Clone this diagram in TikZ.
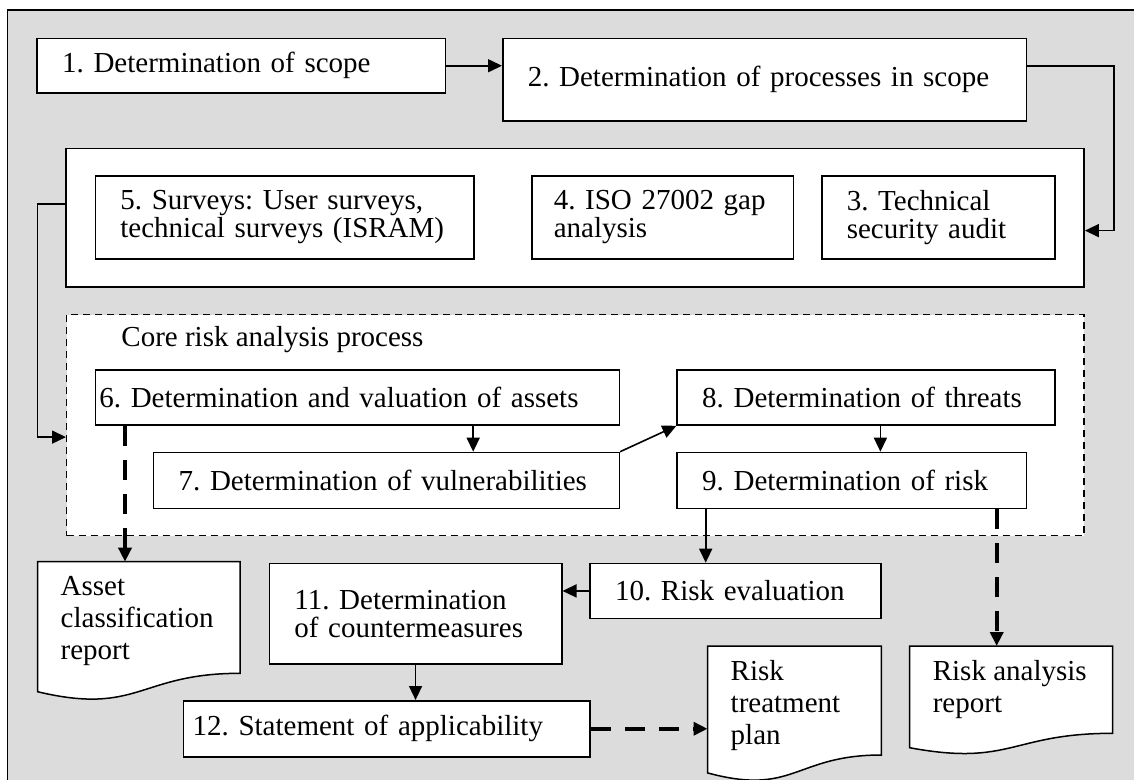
\documentclass[tikz,border=0pt]{standalone}
\usepackage{fontspec}
\setmainfont{Liberation Serif}
\usetikzlibrary{arrows.meta}
\frenchspacing

\definecolor{framegray}{RGB}{220,220,220}

\tikzset{
  stepbox/.style={draw, fill=white, line width=1.5pt, anchor=north west,
    align=left, inner xsep=25pt, inner ysep=0pt},
  doctext/.style={anchor=north west, align=left, inner xsep=23pt,
    inner ysep=14pt, font=\fontsize{29}{32}\selectfont},
  docshape/.style={draw, fill=white, line width=1.5pt},
  flow/.style={->, line width=1.6pt},
  dashflow/.style={->, line width=4pt, dash pattern=on 20pt off 14pt},
}

\begin{document}
\begin{tikzpicture}[x=1pt, y=-1pt, >={Triangle[length=14pt, width=13pt]},
    every node/.style={font=\fontsize{29}{28}\selectfont}]

        \useasboundingbox (0,0) rectangle (1134,779);

        % Outer frame
        \draw[line width=1.5pt, fill=framegray] (7.5,10) rectangle (1150,800);

        % Audits
        \node[stepbox, minimum width=1018pt, minimum height=138.3pt] (audit) at (65.4,147.7) {};
        \node[stepbox, text width=328.6pt, minimum height=83.3pt] (b5) at (94.6,175) {5. Surveys: User surveys,\\technical surveys (ISRAM)};
        \node[stepbox, inner xsep=22pt, text width=217.8pt, minimum height=83.3pt] (b4) at (531,175) {4. ISO 27002 gap\\analysis};
        \node[stepbox, text width=183pt, minimum height=83.3pt] (b3) at (821,175) {3. Technical\\security audit};

        % Core risk analysis process
        \node[stepbox, line width=1.2pt, dash pattern=on 7pt off 5pt, minimum width=1017.4pt, minimum height=221pt] (core) at (66,314) {};
        \node[anchor=base west] (coretitle) at (117.9,346.7) {Core risk analysis process};

        \node[stepbox, inner xsep=4pt, text width=516pt, minimum height=55.3pt] (b6) at (94.6,369) {6. Determination and valuation of assets};
        \node[stepbox, text width=415.7pt, minimum height=56pt] (b7) at (152.9,451.7) {7. Determination of vulnerabilities};
        \node[stepbox, text width=327.7pt, minimum height=55.3pt] (b8) at (676.4,369) {8. Determination of threats};
        \node[stepbox, text width=299.2pt, minimum height=56pt] (b9) at (676.4,451.7) {9. Determination of risk};

        % Evaluation and treatment
        \node[stepbox, text width=241pt, minimum height=55pt] (b10) at (589.3,562.7) {10. Risk evaluation};
        \node[stepbox, text width=242.4pt, minimum height=100.6pt] (b11) at (268.6,562.7) {11. Determination\\of countermeasures};
        \node[stepbox, inner xsep=9pt, text width=388.4pt, minimum height=56pt] (b12) at (182.9,700) {12. Statement of applicability};

        % Reports
        \draw[docshape] (37.5,561.7) -- (240,561.7) -- (240,673.3)
            .. controls (138.8,673.3) and (138.8,715.8) .. (37.5,691.7) -- cycle;
        \node[doctext] (asset) at (37.5,561.7) {Asset\\classification\\report};

        \draw[docshape] (707.5,646) -- (881.4,646) -- (881.4,755)
            .. controls (794.5,755) and (794.5,796.4) .. (707.5,772.9) -- cycle;
        \node[doctext] (rtp) at (707.5,646) {Risk\\treatment\\plan};

        \draw[docshape] (909.6,646) -- (1112.7,646) -- (1112.7,733.3)
            .. controls (1011.2,733.3) and (1011.2,766.6) .. (909.6,747.7) -- cycle;
        \node[doctext] (rar) at (909.6,646) {Risk analysis\\report};

        % Scope
        \node[stepbox, text width=358.2pt, minimum height=54.6pt] (b1) at (36.4,37.7) {1. Determination of scope};
        \node[stepbox, text width=473.6pt, minimum height=82.3pt] (b2) at (502,37.7) {2. Determination of processes in scope};

        % Flow
        \draw[flow] (b1.east) -- (b1.east -| b2.west);
        \draw[flow] (b2.east |- b1.east) -- ++(87,0) |- ([yshift=-13pt]audit.east);
        \draw[flow] ([yshift=13.5pt]audit.west) -- ++(-28,0) |- ([yshift=-12pt]core.west);
        \draw[flow] ([xshift=378.6pt]b6.south west) coordinate (s67) -- (s67 |- b7.north);
        \draw[flow] (b7.north east) -- (b8.south west);
        \draw[flow] ([xshift=204pt]b8.south west) coordinate (s89) -- (s89 |- b9.north);
        \draw[flow] ([xshift=29.3pt]b9.south west) coordinate (s910) -- (s910 |- b10.north);
        \draw[flow] (b10.west) -- (b10.west -| b11.east);
        \draw[flow] (b11.south) -- (b11.south |- b12.north);

        % Report outputs
        \draw[dashflow] ([xshift=30.4pt]b6.south west) coordinate (s6a) -- (s6a |- asset.north);
        \draw[dashflow] ([xshift=320.3pt]b9.south west) coordinate (s9r) -- (s9r |- rar.north);
        \draw[dashflow] (b12.east) -- (b12.east -| rtp.west);

    \end{tikzpicture}
\end{document}
